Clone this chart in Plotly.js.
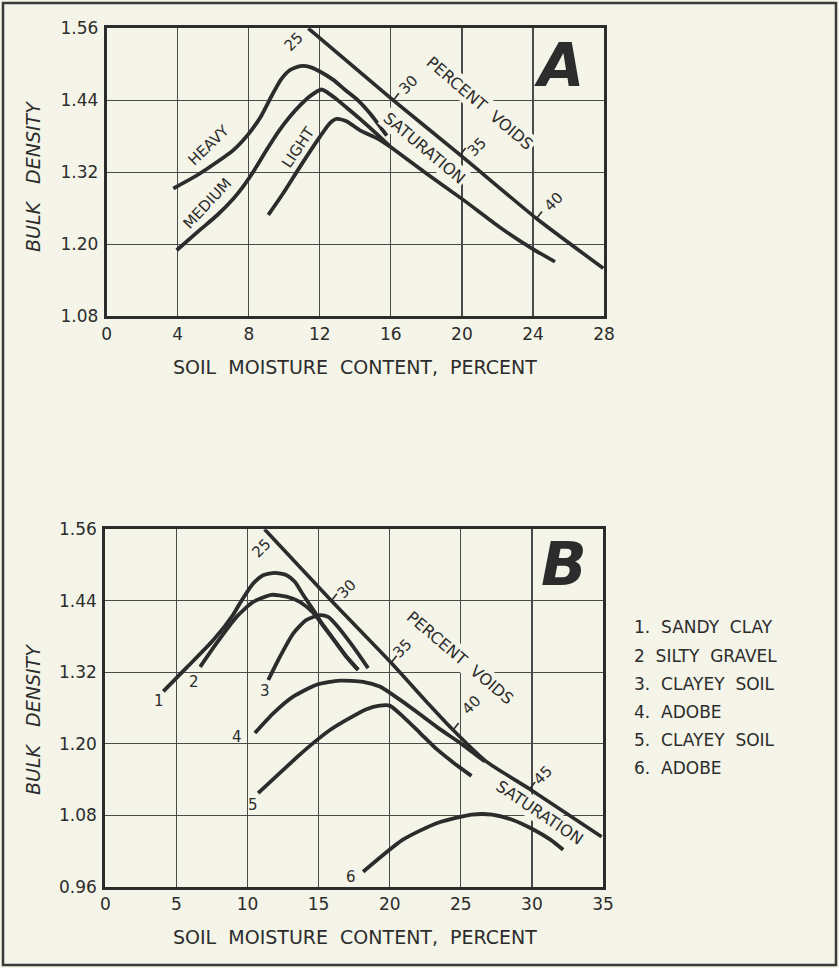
<!DOCTYPE html>
<html><head><meta charset="utf-8">
<script src="https://cdn.plot.ly/plotly-3.0.1.min.js"></script>
<style>html,body{margin:0;padding:0;background:#f4f4e8;}#chart{width:839px;height:968px;}</style>
</head><body><div id="chart"></div>
<script>
// ---------- Chart A data ----------
const aXTicks = [0, 4, 8, 12, 16, 20, 24, 28];
const aYTicks = [1.08, 1.20, 1.32, 1.44, 1.56];
const aYTickText = ['1.08', '1.20', '1.32', '1.44', '1.56'];

const heavyX = [3.75, 5.25, 7.13, 8.07, 8.7, 9.3, 9.8, 10.3, 10.9, 11.5, 12.0, 12.76, 13.4, 14.15, 14.83, 15.77];
const heavyY = [1.293, 1.318, 1.357, 1.387, 1.414, 1.448, 1.474, 1.49, 1.497, 1.495, 1.488, 1.474, 1.458, 1.44, 1.418, 1.381];
const mediumX = [3.94, 5.25, 6.2, 7.13, 7.7, 8.3, 9.0, 9.7, 10.32, 10.9, 11.45, 12.1, 12.8, 13.5, 14.26, 15.2, 15.95];
const mediumY = [1.19, 1.224, 1.248, 1.276, 1.297, 1.323, 1.357, 1.389, 1.413, 1.432, 1.447, 1.458, 1.445, 1.428, 1.409, 1.384, 1.363];
const lightX = [9.1, 9.94, 10.88, 12.0, 12.57, 12.95, 13.5, 14.26, 15.2, 15.95];
const lightY = [1.249, 1.285, 1.329, 1.379, 1.402, 1.409, 1.405, 1.39, 1.377, 1.363];
const satAX = [15.95, 18.0, 20.08, 22.15, 24.0, 25.24];
const satAY = [1.363, 1.318, 1.274, 1.228, 1.192, 1.171];
const voidsAX = [11.35, 16.14, 19.9, 24.2, 27.96];
const voidsAY = [1.56, 1.44, 1.349, 1.243, 1.16];
const aVoidTickX = [16.14, 19.9, 24.2];
const aVoidTickY = [1.44, 1.349, 1.243];
const aVoidLabels = ['25', '30', '35', '40'];
const aVoidLabelX = [10.5, 16.98, 20.83, 25.15];
const aVoidLabelY = [1.538, 1.4655, 1.363, 1.271];
const aCurveNames = ['HEAVY', 'MEDIUM', 'LIGHT'];
const aCurveLabelX = [5.77, 5.63, 10.79];
const aCurveLabelY = [1.365, 1.268, 1.363];

// ---------- Chart B data ----------
const bXTicks = [0, 5, 10, 15, 20, 25, 30, 35];
const bYTicks = [0.96, 1.08, 1.20, 1.32, 1.44, 1.56];
const bYTickText = ['0.96', '1.08', '1.20', '1.32', '1.44', '1.56'];

const c1X = [4.08, 5.77, 7.6, 9.0, 9.47, 10.4, 11.1, 11.93, 12.75, 13.33, 13.91, 14.62, 15.32, 16.26, 16.96, 17.78];
const c1Y = [1.288, 1.329, 1.374, 1.417, 1.436, 1.469, 1.483, 1.487, 1.483, 1.472, 1.45, 1.425, 1.399, 1.369, 1.346, 1.324];
const c2X = [6.67, 7.8, 9.23, 10.4, 11.69, 12.75, 13.68, 14.62, 15.32, 16.26, 16.96, 17.78];
const c2Y = [1.329, 1.368, 1.413, 1.438, 1.45, 1.447, 1.438, 1.42, 1.398, 1.368, 1.346, 1.324];
const c3X = [11.46, 12.28, 13.21, 14.15, 15.09, 15.67, 16.26, 17.43, 18.48];
const c3Y = [1.307, 1.346, 1.385, 1.408, 1.416, 1.413, 1.399, 1.363, 1.327];
const c4X = [10.52, 11.81, 13.21, 14.86, 16.49, 18.13, 19.3, 20.71, 22.1, 23.5, 25.1, 26.7];
const c4Y = [1.218, 1.251, 1.279, 1.299, 1.306, 1.304, 1.296, 1.274, 1.25, 1.225, 1.199, 1.17];
const c5X = [10.75, 12.51, 13.6, 14.62, 15.8, 16.96, 18.37, 19.3, 20.0, 20.92, 22.14, 23.35, 24.55, 25.75];
const c5Y = [1.117, 1.156, 1.18, 1.201, 1.223, 1.24, 1.258, 1.264, 1.264, 1.246, 1.218, 1.19, 1.167, 1.146];
const c6X = [18.13, 20.93, 23.35, 25.76, 27.2, 28.66, 30.1, 31.3, 32.2];
const c6Y = [0.985, 1.039, 1.067, 1.081, 1.081, 1.072, 1.056, 1.039, 1.022];
const voidsBX = [11.2, 15.9, 20.1, 22.8, 24.46, 26.8, 29.84, 34.9];
const voidsBY = [1.56, 1.44, 1.336, 1.265, 1.223, 1.17, 1.124, 1.044];
const bVoidTickX = [15.9, 20.1, 24.46, 29.84];
const bVoidTickY = [1.44, 1.336, 1.223, 1.124];
const bVoidLabels = ['25', '30', '35', '40', '45'];
const bVoidLabelX = [11.0, 16.96, 20.93, 25.75, 30.78];
const bVoidLabelY = [1.528, 1.46, 1.36, 1.265, 1.148];
const bCurveNums = ['1', '2', '3', '4', '5', '6'];
const bCurveNumX = [3.79, 6.23, 11.22, 9.28, 10.4, 17.3];
const bCurveNumY = [1.271, 1.304, 1.288, 1.212, 1.097, 0.977];
const bSoils = ['1.  SANDY  CLAY', '2  SILTY  GRAVEL', '3.  CLAYEY  SOIL', '4.  ADOBE', '5.  CLAYEY  SOIL', '6.  ADOBE'];

// ---------- layout geometry (pixels) ----------
const W = 839, H = 968;
const boxA = {l: 106.7, r: 604, t: 28.3, b: 316.3};
const boxB = {l: 105.3, r: 603, t: 529.3, b: 886.7};
const INK = '#2c2c2c';
const BG = '#f4f4e8';
const FONT = 'DejaVu Sans';

function dom(box) {
  return {x: [box.l / W, box.r / W], y: [(H - box.b) / H, (H - box.t) / H]};
}
const dA = dom(boxA), dB = dom(boxB);

function curve(x, y, xa, ya, w) {
  return {type: 'scatter', mode: 'lines', x: x, y: y, xaxis: xa, yaxis: ya,
    line: {color: INK, width: w || 3.8, shape: 'spline', smoothing: 0.6},
    hoverinfo: 'skip'};
}
// short tick strokes on the voids line, pointing up-right
function tickTrace(tx, ty, box, xr, yr, xa, ya) {
  const pxX = (box.r - box.l) / (xr[1] - xr[0]);
  const pxY = (box.b - box.t) / (yr[1] - yr[0]);
  const dxPx = 5.5, dyPx = 7;
  const xs = [], ys = [];
  tx.forEach((v, i) => { xs.push(v, v + dxPx / pxX, null); ys.push(ty[i], ty[i] + dyPx / pxY, null); });
  return {type: 'scatter', mode: 'lines', x: xs, y: ys, xaxis: xa, yaxis: ya,
    line: {color: INK, width: 1.6}, hoverinfo: 'skip'};
}

const data = [
  curve(heavyX, heavyY, 'x', 'y'),
  curve(mediumX, mediumY, 'x', 'y'),
  curve(lightX, lightY, 'x', 'y'),
  curve(satAX, satAY, 'x', 'y', 3.6),
  curve(voidsAX, voidsAY, 'x', 'y', 3.6),
  tickTrace(aVoidTickX, aVoidTickY, boxA, [0, 28], [1.08, 1.56], 'x', 'y'),
  curve(c1X, c1Y, 'x2', 'y2'),
  curve(c2X, c2Y, 'x2', 'y2'),
  curve(c3X, c3Y, 'x2', 'y2'),
  curve(c4X, c4Y, 'x2', 'y2'),
  curve(c5X, c5Y, 'x2', 'y2'),
  curve(c6X, c6Y, 'x2', 'y2'),
  curve(voidsBX, voidsBY, 'x2', 'y2', 3.6),
  tickTrace(bVoidTickX, bVoidTickY, boxB, [0, 35], [0.96, 1.56], 'x2', 'y2')
];

const ann = [];
function txt(text, x, y, xref, yref, size, angle, extra) {
  ann.push(Object.assign({text: text, x: x, y: y, xref: xref, yref: yref, showarrow: false,
    textangle: angle || 0, font: {family: FONT, size: size, color: INK},
    xanchor: 'center', yanchor: 'middle'}, extra || {}));
}
const bigFont = {family: FONT, size: 60, color: INK, style: 'italic', weight: 'bold'};
// Chart A labels
const aAngles = [-44, -47, -56];
aCurveNames.forEach((t, i) => txt(t, aCurveLabelX[i], aCurveLabelY[i], 'x', 'y', 15, aAngles[i]));
aVoidLabels.forEach((t, i) => txt(t, aVoidLabelX[i], aVoidLabelY[i], 'x', 'y', 15, -45));
txt('PERCENT  VOIDS', 21.02, 1.435, 'x', 'y', 16, 40.5, {bgcolor: BG, borderpad: 1});
txt('SATURATION', 17.92, 1.36, 'x', 'y', 16, 40, {bgcolor: BG, borderpad: 1});
txt('A', 25.47, 1.499, 'x', 'y', 60, 0, {font: bigFont});
// Chart B labels
bVoidLabels.forEach((t, i) => txt(t, bVoidLabelX[i], bVoidLabelY[i], 'x2', 'y2', 15, -45));
bCurveNums.forEach((t, i) => txt(t, bCurveNumX[i], bCurveNumY[i], 'x2', 'y2', 15, 0));
txt('PERCENT  VOIDS', 24.91, 1.344, 'x2', 'y2', 16, 40.4, {bgcolor: BG, borderpad: 1});
txt('SATURATION', 30.52, 1.084, 'x2', 'y2', 16, 34, {bgcolor: BG, borderpad: 1});
txt('B', 32.28, 1.502, 'x2', 'y2', 60, 0, {font: bigFont});
// soil list
bSoils.forEach((t, i) => txt(t, 632 / W, 1 - (627.3 + i * 28.2) / H, 'paper', 'paper', 17, 0, {xanchor: 'left'}));
// axis titles
const xTitle = 'SOIL  MOISTURE  CONTENT,  PERCENT';
const yTitle = 'BULK   DENSITY';
const yTitleFont = {family: FONT, size: 19, color: INK, style: 'italic'};
txt(xTitle, 355 / W, 1 - 367 / H, 'paper', 'paper', 19, 0);
txt(xTitle, 354.5 / W, 1 - 936.7 / H, 'paper', 'paper', 19, 0);
txt(yTitle, 33 / W, 1 - 177 / H, 'paper', 'paper', 19, -90, {font: yTitleFont});
txt(yTitle, 33 / W, 1 - 720 / H, 'paper', 'paper', 19, -90, {font: yTitleFont});

function axis(domain, range, ticks, ticktext, anchor, standoff) {
  return {domain: domain, range: range, tickmode: 'array', tickvals: ticks,
    ticktext: ticktext || ticks.map(String), anchor: anchor,
    showgrid: true, gridcolor: '#4a4a4a', gridwidth: 1.2, zeroline: false,
    showline: true, mirror: true, linecolor: INK, linewidth: 3, ticks: '',
    ticklabelstandoff: standoff, tickfont: {family: FONT, size: 17, color: INK}, fixedrange: true};
}

const layout = {
  width: W, height: H, margin: {l: 0, r: 0, t: 0, b: 0},
  paper_bgcolor: BG, plot_bgcolor: BG, showlegend: false,
  font: {family: FONT, color: INK},
  xaxis: axis(dA.x, [0, 28], aXTicks, null, 'y', 0),
  yaxis: axis(dA.y, [1.08, 1.56], aYTicks, aYTickText, 'x', 2),
  xaxis2: axis(dB.x, [0, 35], bXTicks, null, 'y2', 0),
  yaxis2: axis(dB.y, [0.96, 1.56], bYTicks, bYTickText, 'x2', 2),
  annotations: ann,
  shapes: [{type: 'rect', xref: 'paper', yref: 'paper', x0: 3 / W, x1: 836 / W, y0: 3 / H, y1: 1 - 3 / H,
    line: {color: '#3a3a3a', width: 2.5}, fillcolor: 'rgba(0,0,0,0)', layer: 'below'}]
};

Plotly.newPlot('chart', data, layout, {staticPlot: true, displayModeBar: false});
</script></body></html>
